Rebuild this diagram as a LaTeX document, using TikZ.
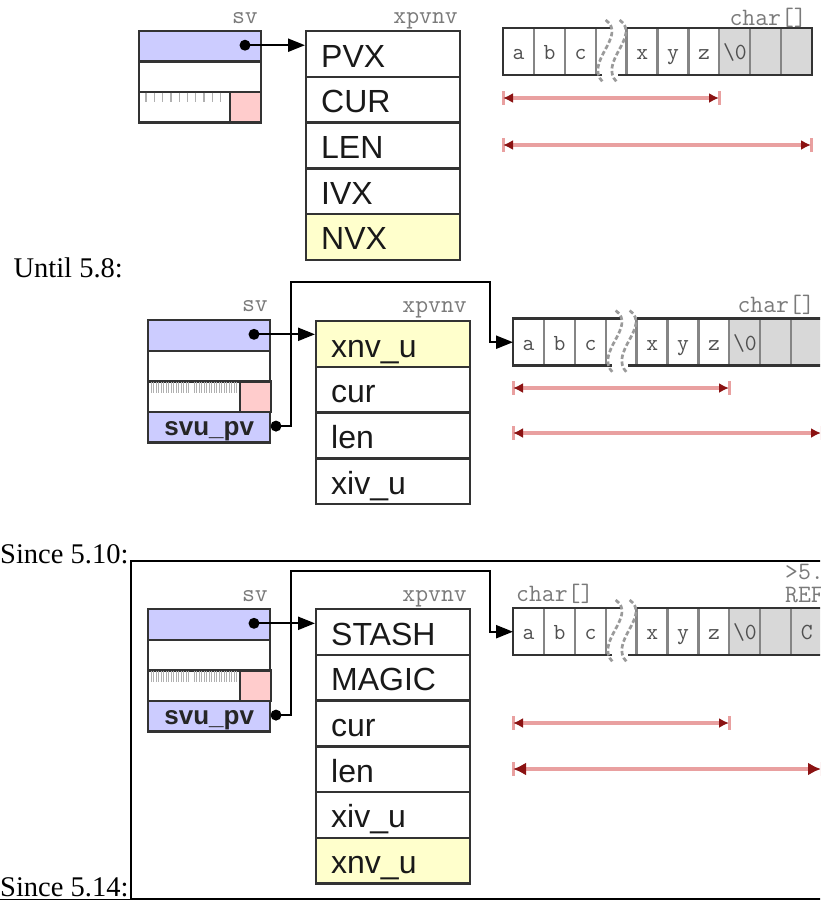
\documentclass[tikz,border=0pt]{standalone}
\usepackage{fontspec}
\setmainfont{Liberation Serif}
\newfontfamily\sansf{Liberation Sans}
\usetikzlibrary{arrows.meta,calc}
\definecolor{svblue}{HTML}{CCCCFF}
\definecolor{pinkc}{HTML}{FFCCCC}
\definecolor{yell}{HTML}{FFFFCC}
\definecolor{cellgray}{HTML}{D8D8D8}
\definecolor{bordc}{HTML}{333333}
\definecolor{sepc}{HTML}{858585}
\definecolor{lblc}{HTML}{7A7A7A}
\definecolor{celltxt}{HTML}{505050}
\definecolor{redl}{HTML}{E9A0A0}
\definecolor{redd}{HTML}{8B1212}
\definecolor{tickc}{HTML}{B0B0B0}
\definecolor{squigc}{HTML}{9A9A9A}
\tikzset{
  bx/.style={draw=bordc, line width=2.4pt, inner sep=0pt, anchor=north west},
  svrow/.style={bx, minimum width=122pt, minimum height=30.6pt},
  svtxt/.style={font=\sansf\bfseries\fontsize{26}{28}\selectfont, text=black!85, text height=20pt, text depth=4pt},
  pinkbox/.style={bx, fill=pinkc, minimum width=31pt, minimum height=30.6pt},
  fld/.style={bx, minimum height=45.7pt, text width=124pt, inner xsep=15pt, align=left,
     text height=30pt, text depth=4pt, font=\sansf\fontsize{32}{36}\selectfont, text=black!90},
  lbl/.style={font=\ttfamily\fontsize{25}{26}\selectfont, text=lblc, inner sep=0pt},
  serif/.style={font=\fontsize{28.5}{30}\selectfont, inner sep=0pt},
  dot/.style={circle, fill=black, minimum size=11pt, inner sep=0pt},
  blktip/.tip={Triangle[length=17pt,width=13pt]},
  arr/.style={draw=black, line width=2.2pt, -blktip},
  cellbox/.style={inner sep=0pt, anchor=north west, minimum width=30.9pt, minimum height=47pt,
     font=\ttfamily\fontsize{23}{23}\selectfont, text=celltxt, text height=16pt, text depth=0pt},
  sepline/.style={draw=sepc, line width=2.3pt},
  outer/.style={draw=bordc, line width=2.8pt},
  squig/.style={draw=squigc, line width=2.7pt, dash pattern=on 4.5pt off 2.5pt},
  rtip/.tip={Latex[length=10pt,width=10pt,color=redd]},
  rtipb/.tip={Latex[length=13pt,width=13pt,color=redd]},
  meas/.style={draw=redl, line width=3.2pt, rtip-rtip},
  bigmeas/.style={rtipb-rtipb},
  mtick/.style={draw=redl, line width=3pt},
  tk/.style={draw=tickc, line width=1.3pt},
  tkd/.style={draw=tickc, line width=1pt},
  frame/.style={draw=black, line width=2.2pt},
}
% #1 prefix, #2 x0, #3 y0, #4 text of last cell
\newcommand\charrow[4]{%
  \foreach \ci/\ct/\cf in {1/a/white,2/b/white,3/c/white,4/{}/white,5/x/white,6/y/white,7/z/white,8/{\textbackslash0}/cellgray,9/{}/cellgray,10/{#4}/cellgray}{
    \node[cellbox, fill=\cf] (#1\ci) at ({#2+(\ci-1)*30.9},#3) {\ct};
  }
  \foreach \ci in {1,...,9}{
    \draw[sepline] ({#2+\ci*30.9},#3) -- ({#2+\ci*30.9},{#3+47});
  }
  \fill[white] ({#2+3*30.9+1.5},{#3-3}) rectangle ({#2+4*30.9-1.5},{#3+50});
  \draw[sepline] ({#2+3*30.9},#3) -- ({#2+3*30.9},{#3+47});
  \draw[outer] ({#2+3*30.9+15},#3) -- (#2,#3) -- (#2,{#3+47}) -- ({#2+3*30.9+6},{#3+47});
  \draw[outer] ({#2+4*30.9},#3) -- ({#2+10*30.9},#3) -- ({#2+10*30.9},{#3+47}) -- ({#2+3*30.9+22},{#3+47});
  \draw[squig] ({#2+3*30.9+10},{#3-8}) .. controls ({#2+3*30.9+32},{#3+8}) and ({#2+3*30.9-12},{#3+34}) .. ({#2+3*30.9+7},{#3+54});
  \draw[squig] ({#2+3*30.9+24},{#3-8}) .. controls ({#2+3*30.9+46},{#3+8}) and ({#2+3*30.9+2},{#3+34}) .. ({#2+3*30.9+21},{#3+54});
}
\newcommand\measline[5]{%
  \coordinate (#1a) at (#2,#4);
  \coordinate (#1b) at (#3,#4);
  \draw[mtick] ($(#1a)+(0,-7)$) -- ($(#1a)+(0,7)$);
  \draw[mtick] ($(#1b)+(0,-7)$) -- ($(#1b)+(0,7)$);
  \draw[meas,#5] (#1a) -- (#1b);
}
\newcommand\densetick[1]{%
  \foreach \k in {0,...,15} \draw[tkd] ({151+\k*2.5},{#1+1.5}) -- ({151+\k*2.5},{#1+13});
  \foreach \k in {0,...,17} \draw[tkd] ({194+\k*2.5},{#1+1.5}) -- ({194+\k*2.5},{#1+13});
}
\begin{document}
\begin{tikzpicture}[x=1pt,y=-1pt]
\useasboundingbox (0,0) rectangle (820,903);
\fill[white] (0,0) rectangle (820,903);
\clip (0,0) rectangle (820,903);

% ---------- Diagram 1 ----------
\node[svrow,fill=svblue] (s1a) at (138,30) {};
\node[svrow] (s1b) at (138,60.4) {};
\node[svrow] (s1c) at (138,90.8) {};
\foreach \k in {0,...,9} \draw[tk] ({146+\k*8.3},92.5) -- ({146+\k*8.3},102);
\node[pinkbox] (s1p) at (229,90.8) {};
\node[lbl,anchor=base east] (s1l) at (258,23) {sv};
\node[fld] (x1a) at (305,30) {PVX};
\node[fld] (x1b) at (305,75.7) {CUR};
\node[fld] (x1c) at (305,121.4) {LEN};
\node[fld] (x1d) at (305,167.1) {IVX};
\node[fld,fill=yell] (x1e) at (305,212.8) {NVX};
\node[lbl,anchor=base east] (x1l) at (458,23) {xpvnv};
\charrow{ca}{503}{28}{}
\node[lbl,anchor=base east] (cal) at (807,25) {char[]};
\measline{m1}{503}{719}{98}{}
\measline{m2}{503}{811}{145}{}
\node[dot] (d1) at (245,45.2) {};
\draw[arr] (d1.center) -- (d1.center -| x1a.west);

% ---------- Diagram 2 ----------
\node[serif,anchor=base east] (t2) at (123,277) {Until 5.8:};
\node[svrow,fill=svblue] (s2a) at (147,319) {};
\node[svrow] (s2b) at (147,349.6) {};
\node[svrow] (s2c) at (147,380.2) {};
\densetick{380.2}
\node[pinkbox] (s2p) at (239,380.2) {};
\node[svrow,fill=svblue,svtxt] (s2d) at (147,410.8) {svu\_pv};
\node[lbl,anchor=base east] (s2l) at (268,311) {sv};
\node[fld,fill=yell] (x2a) at (315,320) {xnv\_u};
\node[fld] (x2b) at (315,365.7) {cur};
\node[fld] (x2c) at (315,411.4) {len};
\node[fld] (x2d) at (315,457.1) {xiv\_u};
\node[lbl,anchor=base east] (x2l) at (467,312) {xpvnv};
\charrow{cb}{513}{318.5}{}
\node[lbl,anchor=base east] (cbl) at (815,312) {char[]};
\measline{m3}{513}{729}{388}{}
\measline{m4}{513}{821}{433}{}
\node[dot] (d2) at (254,334.3) {};
\node[dot] (e2) at (276,426.1) {};
\draw[arr] (d2.center) -- (d2.center -| x2a.west);
\coordinate (k2a) at (291,282);
\coordinate (k2b) at (490,282);
\draw[arr] (e2.center) -| (k2a) -- (k2b) |- (cb1.west);

% ---------- Diagram 3 ----------
\node[serif,anchor=base west] (t3) at (0,563) {Since 5.10:};
\draw[frame] (822,561) -- (131,561) -- (131,899) -- (822,899);
\node[serif,anchor=base west] (t4) at (0,896) {Since 5.14:};
\draw[line width=1.4pt] (0,899.3) -- (131,899.3);
\node[svrow,fill=svblue] (s3a) at (147,608) {};
\node[svrow] (s3b) at (147,638.6) {};
\node[svrow] (s3c) at (147,669.2) {};
\densetick{669.2}
\node[pinkbox] (s3p) at (239,669.2) {};
\node[svrow,fill=svblue,svtxt] (s3d) at (147,699.8) {svu\_pv};
\node[lbl,anchor=base east] (s3l) at (268,601) {sv};
\node[fld] (x3a) at (315,608) {STASH};
\node[fld] (x3b) at (315,653.7) {MAGIC};
\node[fld] (x3c) at (315,699.4) {cur};
\node[fld] (x3d) at (315,745.1) {len};
\node[fld] (x3e) at (315,790.8) {xiv\_u};
\node[fld,fill=yell] (x3f) at (315,836.5) {xnv\_u};
\node[lbl,anchor=base east] (x3l) at (467,601) {xpvnv};
\charrow{cc}{513}{608}{C}
\node[lbl,anchor=base west] (ccl) at (516,601) {char[]};
\node[lbl,anchor=base west] (ccv) at (785,579) {>5.};
\node[lbl,anchor=base west] (ccr) at (785,602) {REF};
\measline{m5}{513}{729}{723}{}
\measline{m6}{513}{821}{769}{bigmeas}
\node[dot] (d3) at (254,623.3) {};
\node[dot] (e3) at (276,715.1) {};
\draw[arr] (d3.center) -- (d3.center -| x3a.west);
\coordinate (k3a) at (291,571);
\coordinate (k3b) at (490,571);
\draw[arr] (e3.center) -| (k3a) -- (k3b) |- (cc1.west);
\end{tikzpicture}
\end{document}
